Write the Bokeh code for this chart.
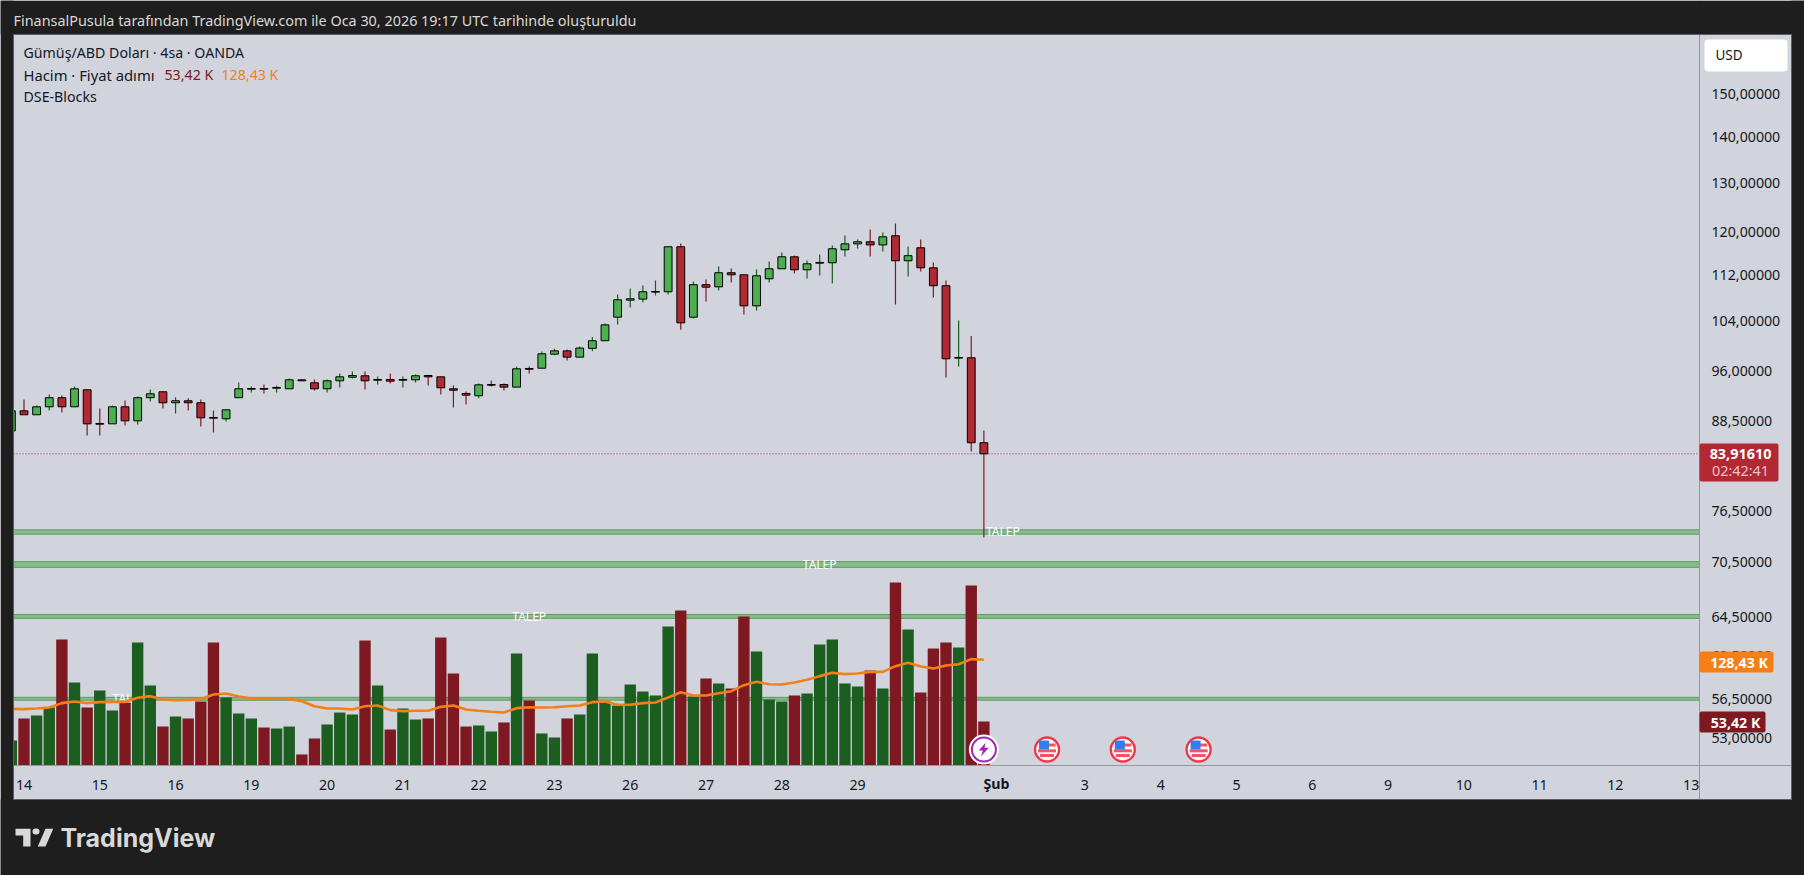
from bokeh.plotting import figure
from bokeh.embed import file_html
from bokeh.resources import INLINE
from bokeh.core.properties import value
from bokeh.models import (Range1d, LinearScale, FixedTicker, Label, BoxAnnotation,
                          PolyAnnotation)

# ---- chart data ----
idx = list(range(-1, 77))
opens = [87.09,89.95,89.38,90.54,91.88,90.54,93.06,88.13,88.08,90.54,88.51,91.88,92.76,91.13,91.42,91.13,88.99,88.80,91.88,93.15,93.25,93.30,93.21,94.57,94.12,93.21,94.42,94.97,95.19,94.51,94.62,94.51,94.57,95.23,95.03,93.21,92.51,92.17,93.75,
         93.86,93.46,96.32,96.36,98.57,99.10,98.10,99.50,100.73,104.64,107.56,107.74,108.96,109.03,117.25,104.64,110.28,109.90,112.43,112.06,106.58,111.34,113.15,115.37,112.97,114.18,114.26,116.68,117.80,118.20,117.60,119.35,114.63,117.06,113.33,110.10,97.94,98.00,85.43]
highs = [89.95,91.61,90.73,92.36,92.22,93.56,93.06,90.29,90.73,91.46,92.07,93.10,92.76,91.93,91.78,91.61,90.00,90.10,94.17,93.56,93.86,93.71,94.77,94.57,94.62,94.62,95.54,95.85,95.85,95.08,95.54,95.08,95.39,95.23,95.03,93.71,92.80,94.01,94.47,
         94.01,96.63,96.63,99.00,99.44,99.30,99.80,101.35,103.58,108.55,109.60,110.15,111.04,117.25,117.88,110.86,111.22,113.58,113.20,112.06,113.03,114.50,116.18,115.60,114.68,115.80,117.50,119.41,118.63,120.58,120.00,121.75,117.30,118.63,114.32,111.04,104.09,101.51,87.14]
lows = [87.09,89.38,89.38,90.00,89.71,90.54,86.43,86.43,88.08,87.84,87.98,91.32,90.29,89.57,90.00,87.70,86.85,88.41,91.88,92.66,92.51,92.66,93.21,94.42,92.95,92.66,93.41,94.77,93.10,93.86,94.01,93.41,94.17,93.71,92.36,90.44,90.88,91.78,93.56,
        92.95,93.46,95.54,96.36,98.42,97.57,98.10,99.05,100.73,103.41,106.28,107.16,108.38,108.55,102.54,104.42,107.33,109.26,110.68,105.10,105.78,110.68,113.15,112.30,111.40,111.95,110.50,115.43,116.93,115.43,116.36,106.80,111.76,112.66,108.03,94.92,96.63,84.23,73.30]
closes = [89.95,89.38,90.54,91.88,90.54,93.21,88.08,88.03,90.54,88.51,91.88,92.46,91.13,91.42,91.13,88.94,88.89,90.10,93.21,93.25,93.15,93.41,94.57,94.42,93.21,94.42,95.03,95.23,94.42,94.62,94.36,94.62,95.19,95.03,93.36,93.00,92.26,93.81,93.86,
          93.46,96.27,96.20,98.63,99.10,98.10,99.55,100.73,103.35,107.62,107.80,109.03,109.08,117.25,103.69,110.28,109.84,112.43,112.06,106.58,111.88,113.15,115.37,112.97,114.07,114.32,116.87,117.80,118.20,117.60,119.15,114.63,115.57,113.33,110.10,97.84,98.05,85.43,83.916]
volumes = [30.4,57.1,60.7,70.4,153.0,100.8,70.4,91.0,66.8,76.5,149.3,97.1,47.3,59.5,57.1,77.7,149.3,82.6,63.1,57.1,46.1,44.9,47.3,13.4,32.8,49.8,64.3,61.9,151.8,97.1,43.7,69.2,55.8,57.1,155.4,111.7,47.3,48.6,41.3,
           52.2,136.0,78.9,38.9,34.0,57.1,61.9,136.0,77.7,72.8,98.3,89.8,85.0,168.8,188.2,83.8,105.6,99.6,93.5,180.9,138.4,80.1,77.7,85.0,87.4,146.9,153.0,99.6,95.9,115.3,93.5,222.2,165.1,88.6,142.0,149.3,143.3,218.5,53.42]
volume_dir = "GRGGRGRGGRGGRGRRRGGGRGGRRGGGRGRGGRRRRGGRGRGGRGGGGGGGGRGRGRRGGGRGGGGGRGRGRRRGRR"
volume_ma = [68.8,68.4,69.2,70.4,75.7,77.7,75.7,76.9,77.3,77.3,82.2,84.2,80.1,79.3,79.7,80.5,86.2,87.4,83.8,81.3,81.3,81.3,80.9,78.1,72.0,69.2,69.2,68.0,72.0,72.8,67.2,66.0,66.4,66.4,71.2,72.8,68.0,66.4,65.2,
             64.3,69.6,70.8,70.4,70.8,72.0,72.8,76.9,77.7,73.7,73.7,75.7,76.5,82.6,89.0,85.0,85.0,87.8,90.2,97.5,101.6,98.7,98.3,100.8,104.0,108.5,112.5,110.9,111.7,113.7,113.7,120.6,124.6,120.2,117.8,121.4,123.0,129.1,128.43]

zone_tops = [74.22, 70.50, 64.73, 56.62]
zone_bottoms = [73.70, 69.85, 64.33, 56.36]
zone_label_idx = [77.5, 63.0, 40.0, 8.35]
zone_label = "TALEP"

price_ticks = [150, 140, 130, 120, 112, 104, 96, 88.5, 76.5, 70.5, 64.5, 60.5, 56.5, 53]
price_tick_labels = ["150,00000", "140,00000", "130,00000", "120,00000", "112,00000", "104,00000", "96,00000",
                     "88,50000", "76,50000", "70,50000", "64,50000", "60,50000", "56,50000", "53,00000"]
time_ticks = [0, 6, 12, 18, 24, 30, 36, 42, 48, 54, 60, 66, 84, 90, 96, 102, 108, 114, 120, 126, 132]
time_tick_labels = ["14", "15", "16", "19", "20", "21", "22", "23", "26", "27", "28", "29",
                    "3", "4", "5", "6", "9", "10", "11", "12", "13"]
month_tick = 77
month_label = "Şub"
last_price = 83.916
flag_idx = [81, 87, 93]
flash_idx = [76]
event_vol = 19.4

# ---- style ----
FONT = "Noto Sans"
LIGHT = "#d1d4dc"
DARK = "#1e1e1e"
INK = "#131722"
G_BODY, R_BODY = "#4caf50", "#b22833"
G_WICK, R_WICK = "#1b5e20", "#801922"
ORANGE = "#f57f17"
W, H = 1804, 875
L, T, R, B = 13, 34, 1699, 765   # pane, in window pixels
PX_PER_BAR = 12.63
VOL_PER_PX = 1.214
X0 = 23.5


def xdata(px):
    return (px - X0) / PX_PER_BAR


p = figure(width=W, height=H, output_backend="svg", toolbar_location=None,
           x_range=Range1d(xdata(0), xdata(W)),
           y_range=Range1d(42.46, 174.54), y_axis_type="log", y_axis_location="right",
           min_border_left=0, min_border_right=0, min_border_top=0, min_border_bottom=0,
           background_fill_color=LIGHT, border_fill_color=LIGHT, outline_line_color=None)
p.extra_y_ranges = {"vol": Range1d(-(H - B) * VOL_PER_PX, B * VOL_PER_PX)}
p.extra_y_scales = {"vol": LinearScale()}
p.grid.visible = False


def box(l, t, r, b, fill, line=None, radius=0, level="overlay", alpha=1.0):
    a = BoxAnnotation(left=l, right=r, top=t, bottom=b,
                      left_units="canvas", right_units="canvas", top_units="canvas", bottom_units="canvas",
                      fill_color=fill, fill_alpha=alpha, line_color=line, line_alpha=1 if line else 0,
                      line_width=1, level=level, border_radius=radius)
    p.add_layout(a)
    return a


def label(x, y, text, size=14.2, color=INK, align="left", style="normal", font=FONT, level="overlay"):
    p.add_layout(Label(x=x, y=y, x_units="canvas", y_units="canvas", text=text,
                       text_font=font, text_font_size=f"{size}px", text_color=color,
                       text_align=align, text_baseline="middle", text_font_style=style, level=level))


def poly(xs, ys, fill):
    p.add_layout(PolyAnnotation(xs=list(xs), ys=list(ys),
                                xs_units="canvas", ys_units="canvas", fill_color=fill, fill_alpha=1,
                                line_color=fill, line_alpha=0, level="overlay"))


# axes, placed inside the full-window frame
ya = p.yaxis[0]
ya.fixed_location = xdata(R)
ya.ticker = FixedTicker(ticks=price_ticks)
ya.major_label_overrides = dict(zip(price_ticks, price_tick_labels))
ya.major_tick_line_color = None
ya.minor_tick_line_color = None
ya.axis_line_color = "#9598a1"
ya.major_label_standoff = 6
ya.major_label_text_font = FONT
ya.major_label_text_font_size = "14.2px"
ya.major_label_text_color = INK

xa = p.xaxis[0]
xa.fixed_location = 50.72
xa.ticker = FixedTicker(ticks=time_ticks)
xa.major_tick_line_color = None
xa.minor_tick_line_color = None
xa.major_label_overrides = dict(zip(time_ticks, time_tick_labels))
xa.axis_line_color = "#9598a1"
xa.major_label_standoff = 9
xa.major_label_text_font = FONT
xa.major_label_text_font_size = "14.2px"
xa.major_label_text_color = INK

# demand zones
p.quad(left=[xdata(L)] * 4, right=[xdata(R)] * 4, top=zone_tops, bottom=zone_bottoms,
       fill_color="#85bc88", line_color="#5f9a66", line_width=1)
p.text(x=zone_label_idx, y=[(a + b) / 2 for a, b in zip(zone_tops, zone_bottoms)],
       text=[zone_label] * 4, text_color="#ffffff", text_font=value(FONT), text_font_size="12px",
       text_align="center", text_baseline="middle")

# last price line
p.segment(x0=[xdata(L)], x1=[xdata(R)], y0=[last_price], y1=[last_price], line_color=R_BODY, line_width=1, line_dash="1 2")

# volume
vcol = [("#1b5e20" if d == "G" else "#7f1921") for d in volume_dir]
p.vbar(x=idx, top=volumes, bottom=0, width=0.9, fill_color=vcol, line_color=None, y_range_name="vol")
p.line(idx, volume_ma, line_color=ORANGE, line_width=2.6, y_range_name="vol")

# candles
up = [c >= o for o, c in zip(opens, closes)]
wick = [G_WICK if u else R_WICK for u in up]
body = [G_BODY if u else R_BODY for u in up]
p.segment(x0=idx, x1=idx, y0=lows, y1=highs, line_color=wick, line_width=1.2)
p.vbar(x=idx, top=[max(a, b) for a, b in zip(opens, closes)], bottom=[min(a, b) for a, b in zip(opens, closes)],
       width=0.62, fill_color=body, line_color="#000000", line_width=1)

# event markers
p.scatter(x=flash_idx, y=[event_vol], size=30, marker="circle", fill_color="#ffffff", line_color=None, y_range_name="vol")
p.scatter(x=flash_idx, y=[event_vol], size=24, marker="circle", fill_color="#ffffff", line_color="#9c27b0", line_width=2,
          y_range_name="vol")
p.scatter(x=flag_idx, y=[event_vol] * 3, size=24, marker="circle", fill_color="#ffffff", line_color="#f23645", line_width=2.4,
          y_range_name="vol")
for fi in flag_idx:
    dx = 1 / PX_PER_BAR
    dy = VOL_PER_PX
    p.rect(x=[fi + 3.5 * dx], y=[event_vol + 4.5 * dy], width=10, height=3, width_units="screen", height_units="screen",
           fill_color="#f7525f", line_color=None, y_range_name="vol")
    p.rect(x=[fi], y=[event_vol - 1.3 * dy], width=18, height=3, width_units="screen", height_units="screen",
           fill_color="#f7525f", line_color=None, y_range_name="vol")
    p.rect(x=[fi], y=[event_vol - 6 * dy], width=14, height=3, width_units="screen", height_units="screen",
           fill_color="#f7525f", line_color=None, y_range_name="vol")
    p.rect(x=[fi - 3 * dx], y=[event_vol + 4.5 * dy], width=10, height=9, width_units="screen", height_units="screen",
           fill_color="#2f80ed", line_color=None, y_range_name="vol")
bx, by = 983.3, 749
poly([bx + v for v in (1.7, -5, -1, -2.7, 5, 0.7)], [by + v for v in (-6.7, 1, 1, 6.7, -1.7, -1.7)], "#9c27b0")

# dark page surround and pane border
box(0, 0, W, T, DARK)
box(0, 0, L, H, DARK)
box(1791, 0, W, H, DARK)
box(0, 799, W, H, DARK)
box(L, T, 1791, 799, LIGHT, "#5b5e66", alpha=0.0)

# month label (bold, same row as the time axis)
p.add_layout(Label(x=month_tick, y=782.5, x_units="data", y_units="canvas", text=month_label,
                   text_font=FONT, text_font_size="14.2px", text_font_style="bold", text_color=INK,
                   text_align="center", text_baseline="middle", level="overlay"))

# USD button and price tags
box(1704, 39, 1787, 71, "#ffffff", None, radius=4)
label(1715, 54, "USD", 13.5)
box(1699, 443, 1778, 481, R_BODY, None, radius=2)
label(1740, 453, "83,91610", 14.4, "#ffffff", "center", "bold")
label(1740, 470, "02:42:41", 14.4, "#f0c2c7", "center")
box(1699, 651, 1773, 672, ORANGE, None, radius=2)
label(1738.5, 661.5, "128,43 K", 14.2, "#ffffff", "center", "bold")
box(1699, 711, 1765, 732, "#7f1921", None, radius=2)
label(1735, 721.5, "53,42 K", 14.2, "#ffffff", "center", "bold")

# legend
label(23, 52, "Gümüş/ABD Doları · 4sa · OANDA")
label(23, 74, "Hacim · Fiyat adımı", 14.8)
label(164, 74, "53,42 K", 14.2, "#7f1921")
label(221, 74, "128,43 K", 14.2, ORANGE)
label(23, 95.5, "DSE-Blocks")

# page header and footer
label(13, 19.5, "FinansalPusula tarafından TradingView.com ile Oca 30, 2026 19:17 UTC tarihinde oluşturuldu", 14.4, "#d9d9d9")
LOGO = "#d9d9d9"
poly([15, 30, 30, 22.7, 22.7, 15], [828.3, 828.3, 846, 846, 835, 835], LOGO)
poly([45, 52.7, 45, 37.3], [828.3, 828.3, 846, 846], LOGO)
box(32, 828, 39, 834, LOGO, None, radius=3)
label(60, 837, "TradingView", 25, LOGO, font="Inter", style="bold")

open("out.html", "w").write(file_html(p, INLINE))
